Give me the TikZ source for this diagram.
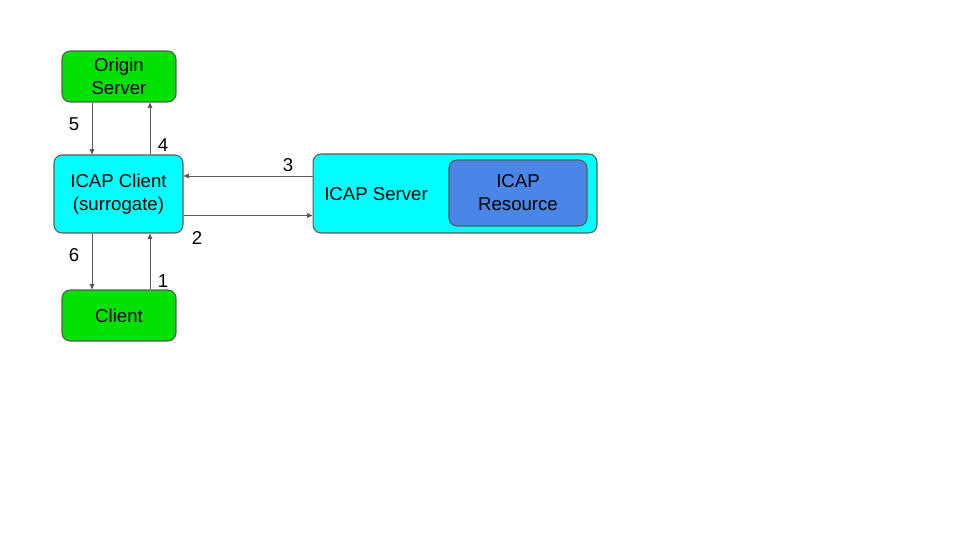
\documentclass[tikz,border=0pt]{standalone}
\usepackage{fontspec}
\setmainfont{Liberation Sans}
\usetikzlibrary{arrows.meta}

\definecolor{verde}{RGB}{0,225,0}
\definecolor{cian}{RGB}{0,255,255}
\definecolor{azul}{RGB}{74,134,232}
\definecolor{borde}{RGB}{89,89,89}

\tikzset{
    caja/.style={draw=borde, line width=0.6pt, rounded corners=0.16cm, inner sep=0pt, align=center,
        font=\fontsize{10.6}{13}\selectfont},
    flecha/.style={draw=borde, line width=0.5pt, -{Triangle[length=3pt,width=2.6pt]}},
    etiqueta/.style={font=\fontsize{10.6}{13}\selectfont, inner sep=0pt}
}

\begin{document}
\begin{tikzpicture}[x=0.02cm, y=-0.02cm]

    % Fijamos el tamano de la pagina
    \useasboundingbox (0,0) rectangle (960,540);

    % Cajas
    \node[caja, fill=verde, minimum width=2.28cm, minimum height=1.02cm] (origin) at (119,76.5) {Origin\\Server};
    \node[caja, fill=cian, minimum width=2.58cm, minimum height=1.56cm] (icapc) at (118.5,194) {ICAP Client\\(surrogate)};
    \node[caja, fill=verde, minimum width=2.28cm, minimum height=1.02cm] (client) at (119,315.5) {Client};
    \node[caja, fill=cian, minimum width=5.68cm, minimum height=1.58cm] (icaps) at (455,193.5) {};
    \node[etiqueta] (icapslbl) at (376,194) {ICAP Server};
    \node[caja, fill=azul, minimum width=2.76cm, minimum height=1.32cm] (recurso) at (518,193) {ICAP\\Resource};

    % Flechas
    \draw[flecha] ([xshift=-0.54cm]origin.south) -- ([xshift=-0.54cm]origin.south |- icapc.north);
    \draw[flecha] ([xshift=0.63cm]icapc.north) -- ([xshift=0.63cm]icapc.north |- origin.south);
    \draw[flecha] ([xshift=-0.53cm]icapc.south) -- ([xshift=-0.53cm]icapc.south |- client.north);
    \draw[flecha] ([xshift=0.62cm]client.north) -- ([xshift=0.62cm]client.north |- icapc.south);
    \draw[flecha] ([yshift=0.35cm]icaps.west) -- ([yshift=0.35cm]icaps.west -| icapc.east);
    \draw[flecha] ([yshift=-0.43cm]icapc.east) -- ([yshift=-0.43cm]icapc.east -| icaps.west);

    % Numeros de los pasos
    \node[etiqueta] (paso1) at (163,281) {1};
    \node[etiqueta] (paso2) at (197,238) {2};
    \node[etiqueta] (paso3) at (288,165) {3};
    \node[etiqueta] (paso4) at (163,145) {4};
    \node[etiqueta] (paso5) at (74,124) {5};
    \node[etiqueta] (paso6) at (74,255) {6};

\end{tikzpicture}
\end{document}
